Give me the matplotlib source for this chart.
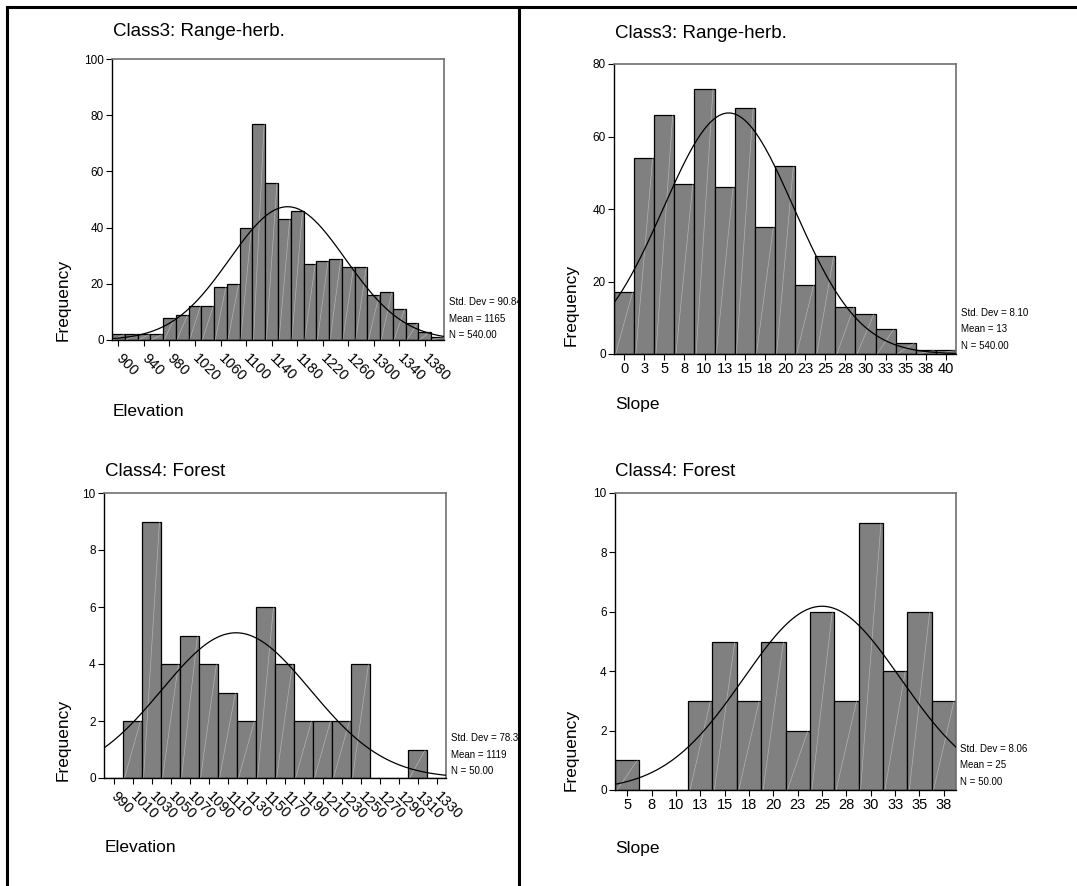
import matplotlib.pyplot as plt
import numpy as np
from matplotlib.lines import Line2D
from matplotlib.transforms import Bbox, TransformedBbox, ScaledTranslation

plt.rcParams['font.family'] = ['Liberation Sans', 'DejaVu Sans']

# --- Class3: Range-herb. ---
elev3_centers = [900, 920, 940, 960, 980, 1000, 1020, 1040, 1060, 1080, 1100, 1120, 1140,
                 1160, 1180, 1200, 1220, 1240, 1260, 1280, 1300, 1320, 1340, 1360, 1380, 1400]
elev3_counts = [2, 2, 2, 2, 8, 9, 12, 12, 19, 20, 40, 77, 56,
                43, 46, 27, 28, 29, 26, 26, 16, 17, 11, 6, 3, 1]
elev3_labels = ['900', '940', '980', '1020', '1060', '1100', '1140',
                '1180', '1220', '1260', '1300', '1340', '1380']
elev3_stats = (90.84, 1165, 540)

slope3_centers = [0, 2.5, 5, 7.5, 10, 12.5, 15, 17.5, 20, 22.5, 25, 27.5, 30, 32.5, 35, 37.5, 40]
slope3_counts = [17, 54, 66, 47, 73, 46, 68, 35, 52, 19, 27, 13, 11, 7, 3, 1, 1]
slope3_labels = ['0', '3', '5', '8', '10', '13', '15', '18', '20',
                 '23', '25', '28', '30', '33', '35', '38', '40']
slope3_stats = (8.10, 13, 540)

# --- Class4: Forest ---
elev4_centers = [990, 1010, 1030, 1050, 1070, 1090, 1110, 1130, 1150,
                 1170, 1190, 1210, 1230, 1250, 1270, 1290, 1310, 1330]
elev4_counts = [0, 2, 9, 4, 5, 4, 3, 2, 6, 4, 2, 2, 2, 4, 0, 0, 1, 0]
elev4_labels = ['990', '1010', '1030', '1050', '1070', '1090', '1110', '1130', '1150',
                '1170', '1190', '1210', '1230', '1250', '1270', '1290', '1310', '1330']
elev4_stats = (78.30, 1119, 50)

slope4_centers = [5, 7.5, 10, 12.5, 15, 17.5, 20, 22.5, 25, 27.5, 30, 32.5, 35, 37.5]
slope4_counts = [1, 0, 0, 3, 5, 3, 5, 2, 6, 3, 9, 4, 6, 3]
slope4_labels = ['5', '8', '10', '13', '15', '18', '20', '23', '25', '28', '30', '33', '35', '38']
slope4_stats = (8.06, 25, 50)

W, H = 1077, 886
fig = plt.figure(figsize=(W / 100, H / 100), dpi=100)


def fx(px):
    return px / W


def fy(py):
    return 1 - py / H


def draw_hist(box, centers, counts, labels, tick_step, stats, ymax, ystep,
              title, xlabel, title_pos, ylabel_pos, xlabel_pos, stats_pos,
              rotate=False, clip_right=None):
    x0, y0, x1, y1 = box
    ax = fig.add_axes([fx(x0), fy(y1), (x1 - x0) / W, (y1 - y0) / H])
    centers = np.asarray(centers, dtype=float)
    width = centers[1] - centers[0]
    lo, hi = centers[0] - width / 2, centers[-1] + width / 2

    ax.bar(centers, counts, width=width, color='#808080', edgecolor='black',
           linewidth=0.9, zorder=2)
    # faint diagonal streak inside every bar
    for c, h in zip(centers, counts):
        if h > 0:
            ax.plot([c - width / 2 + 0.08 * width, c + width / 2 - 0.08 * width], [0, h],
                    color='white', lw=0.5, alpha=0.4, zorder=3)

    sd, mean, n = stats
    xs = np.linspace(lo, hi, 400)
    ys = n * width / (sd * np.sqrt(2 * np.pi)) * np.exp(-0.5 * ((xs - mean) / sd) ** 2)
    ax.plot(xs, ys, color='black', lw=0.9, zorder=4)

    ax.set_xlim(lo, hi)
    ax.set_ylim(0, ymax)
    ax.set_yticks(np.arange(0, ymax + 0.1, ystep))
    ax.tick_params(axis='y', direction='out', length=4, width=0.8, labelsize=8.5, pad=2)
    ax.tick_params(axis='x', direction='out', length=4, width=0.8, labelsize=10.5, pad=2)
    ax.set_xticks(centers[::tick_step])
    if rotate:
        ax.set_xticklabels(labels, rotation=-45, ha='left', va='top',
                           rotation_mode='anchor', fontsize=10.5)
        shift = ScaledTranslation(5 / 100, -3 / 100, fig.dpi_scale_trans)
        for lab in ax.get_xticklabels():
            lab.set_transform(lab.get_transform() + shift)
    else:
        ax.set_xticklabels(labels)

    for side in ('left', 'bottom'):
        ax.spines[side].set_color('black')
        ax.spines[side].set_linewidth(1.0)
    for side in ('top', 'right'):
        ax.spines[side].set_color('#707070')
        ax.spines[side].set_linewidth(1.2)

    fig.text(fx(title_pos[0]), fy(title_pos[1]), title, fontsize=13.5,
             ha='left', va='center')
    fig.text(fx(ylabel_pos[0]), fy(ylabel_pos[1]), 'Frequency', fontsize=12.5,
             rotation=90, ha='center', va='center')
    fig.text(fx(xlabel_pos[0]), fy(xlabel_pos[1]), xlabel, fontsize=12.5,
             ha='left', va='center')

    lines = ['Std. Dev = %.2f' % sd, 'Mean = %d' % mean, 'N = %.2f' % n]
    sx, sy = stats_pos
    for i, s in enumerate(lines):
        t = fig.text(fx(sx), fy(sy + i * 16.5), s, fontsize=7, ha='left', va='center')
        if clip_right is not None:
            t.set_clip_box(TransformedBbox(Bbox([[0, 0], [fx(clip_right), 1]]),
                                           fig.transFigure))
            t.set_clip_on(True)
    return ax


draw_hist((112, 59, 444, 340), elev3_centers, elev3_counts, elev3_labels, 2,
          elev3_stats, 100, 20, 'Class3: Range-herb.', 'Elevation',
          (113, 32), (63, 300), (113, 412), (449, 302), rotate=True, clip_right=518)

draw_hist((614, 64, 956, 354), slope3_centers, slope3_counts, slope3_labels, 1,
          slope3_stats, 80, 20, 'Class3: Range-herb.', 'Slope',
          (615, 33), (571, 305), (615, 405), (961, 313))

draw_hist((104, 493, 446, 778), elev4_centers, elev4_counts, elev4_labels, 1,
          elev4_stats, 10, 2, 'Class4: Forest', 'Elevation',
          (105, 472), (63, 740), (105, 848), (451, 738), rotate=True, clip_right=518)

draw_hist((615, 493, 956, 790), slope4_centers, slope4_counts, slope4_labels, 1,
          slope4_stats, 10, 2, 'Class4: Forest', 'Slope',
          (615, 472), (571, 750), (615, 848), (960, 749))

# table frame around the four panels
frame = dict(transform=fig.transFigure, color='black', lw=2.2)
fig.add_artist(Line2D([fx(7), fx(7)], [0, fy(7)], **frame))
fig.add_artist(Line2D([fx(7), 1], [fy(7), fy(7)], **frame))
fig.add_artist(Line2D([fx(519), fx(519)], [0, fy(7)], **frame))

fig.savefig('out.png', dpi=100, facecolor='white')
